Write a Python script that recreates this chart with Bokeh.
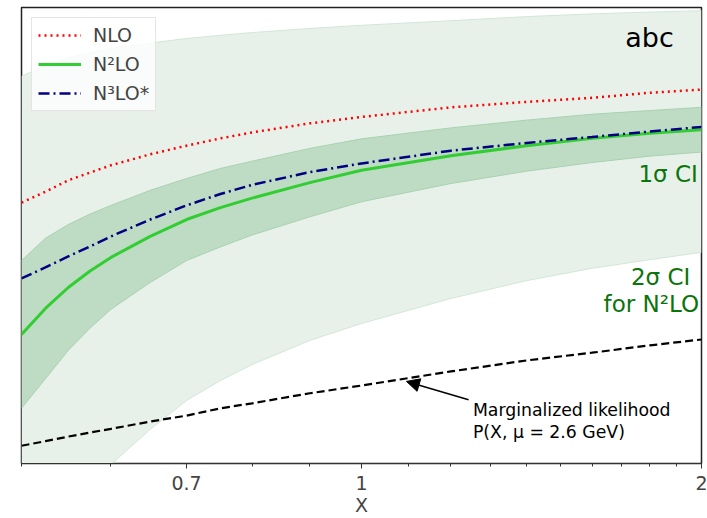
from bokeh.plotting import figure
from bokeh.models import (Range1d, FixedTicker, CustomJSTickFormatter, Label, Arrow,
                          NormalHead, ColumnDataSource)
from bokeh.embed import file_html
from bokeh.resources import INLINE

# ---- data ----
x = [0.5, 0.525, 0.55, 0.575, 0.6, 0.65, 0.7, 0.75, 0.8, 0.9, 1.0, 1.2, 1.4, 1.6, 1.8, 2.0]
nlo = [5.72, 5.96, 6.21, 6.38, 6.54, 6.78, 6.97, 7.13, 7.26, 7.46, 7.60, 7.81, 7.93, 8.02, 8.13, 8.20]
n2lo = [2.83, 3.40, 3.86, 4.22, 4.52, 4.98, 5.35, 5.61, 5.82, 6.16, 6.43, 6.75, 6.97, 7.13, 7.24, 7.32]
n3lo = [4.06, 4.30, 4.54, 4.76, 4.98, 5.35, 5.66, 5.91, 6.11, 6.39, 6.58, 6.86, 7.03, 7.16, 7.28, 7.38]
ci1_lo = [1.21, 1.86, 2.48, 2.97, 3.38, 3.97, 4.45, 4.75, 5.01, 5.41, 5.74, 6.14, 6.41, 6.60, 6.74, 6.83]
ci1_hi = [4.45, 4.94, 5.24, 5.47, 5.66, 5.99, 6.25, 6.47, 6.63, 6.91, 7.12, 7.36, 7.53, 7.66, 7.74, 7.81]
ci2_lo = [-2.11, -1.45, -0.90, -0.44, -0.02, 0.75, 1.38, 1.82, 2.17, 2.70, 3.07, 3.62, 4.01, 4.28, 4.47, 4.63]
ci2_hi = [8.49, 8.73, 8.90, 9.01, 9.10, 9.22, 9.32, 9.39, 9.45, 9.54, 9.61, 9.71, 9.80, 9.86, 9.90, 9.93]
likelihood = [0.39, 0.49, 0.59, 0.68, 0.76, 0.92, 1.05, 1.21, 1.32, 1.54, 1.71, 2.02, 2.26, 2.43, 2.59, 2.72]

major_ticks = [0.7, 1, 2]
minor_ticks = [0.5, 0.6, 0.8, 0.9, 1.1, 1.2, 1.3, 1.4, 1.5, 1.6, 1.7, 1.8, 1.9]

FONT = "DejaVu Sans"
TXT_GREEN = "#0b740b"

src = ColumnDataSource(dict(x=x, nlo=nlo, n2lo=n2lo, n3lo=n3lo, ci1_lo=ci1_lo,
                            ci1_hi=ci1_hi, ci2_lo=ci2_lo, ci2_hi=ci2_hi, lik=likelihood))

p = figure(width=707, height=518, x_axis_type="log", output_backend="svg",
           toolbar_location=None, x_range=Range1d(0.5, 2.0), y_range=Range1d(0, 10),
           min_border_left=21, min_border_right=6, min_border_top=7, min_border_bottom=54)

# bands
p.varea(x="x", y1="ci2_lo", y2="ci2_hi", source=src, fill_color="#e7f1ea")
p.line(x="x", y="ci2_lo", source=src, line_color="#d2e6d8", line_width=1)
p.line(x="x", y="ci2_hi", source=src, line_color="#d2e6d8", line_width=1)
p.varea(x="x", y1="ci1_lo", y2="ci1_hi", source=src, fill_color="#bedcc3")
p.line(x="x", y="ci1_lo", source=src, line_color="#a9d1b0", line_width=1)
p.line(x="x", y="ci1_hi", source=src, line_color="#a9d1b0", line_width=1)

# curves
p.line(x="x", y="nlo", source=src, line_color="red", line_width=2.5, line_dash="2 4",
       legend_label="NLO")
p.line(x="x", y="n2lo", source=src, line_color="#32cd32", line_width=3,
       legend_label="N²LO")
p.line(x="x", y="n3lo", source=src, line_color="navy", line_width=2.5,
       line_dash="11 4 2 4", legend_label="N³LO*")
p.line(x="x", y="lik", source=src, line_color="black", line_width=2.2, line_dash="8 4")

# texts
p.add_layout(Label(x=1.89, y=9.34, text="abc", text_font=FONT, text_font_size="27px",
                   text_align="right", text_baseline="middle", text_color="black"))
p.add_layout(Label(x=1.985, y=6.34, text="1σ CI", text_font=FONT, text_font_size="23px",
                   text_align="right", text_baseline="middle", text_color=TXT_GREEN))
p.add_layout(Label(x=1.84, y=4.08, text="2σ CI", text_font=FONT, text_font_size="23px",
                   text_align="center", text_baseline="middle", text_color=TXT_GREEN))
p.add_layout(Label(x=1.99, y=3.50, text="for N²LO", text_font=FONT, text_font_size="23px",
                   text_align="right", text_baseline="middle", text_color=TXT_GREEN))
p.add_layout(Label(x=1.255, y=1.18, text="Marginalized likelihood", text_font=FONT,
                   text_font_size="17.3px", text_align="left", text_baseline="middle",
                   text_color="black"))
p.add_layout(Label(x=1.255, y=0.68, text="P(X, μ = 2.6 GeV)", text_font=FONT,
                   text_font_size="17.3px", text_align="left", text_baseline="middle",
                   text_color="black"))
p.add_layout(Arrow(end=NormalHead(size=13, fill_color="black", line_color="black"),
                   x_start=1.244, y_start=1.40, x_end=1.096, y_end=1.80,
                   line_color="black", line_width=1.5))

# axes
p.xaxis.ticker = FixedTicker(ticks=major_ticks, minor_ticks=minor_ticks)
p.xaxis.formatter = CustomJSTickFormatter(code="return tick.toString();")
p.xaxis.axis_label = "X"
p.xaxis.axis_label_text_font = FONT
p.xaxis.axis_label_text_font_style = "normal"
p.xaxis.axis_label_text_font_size = "19px"
p.xaxis.axis_label_standoff = 1
p.xaxis.major_label_text_font = FONT
p.xaxis.major_label_text_font_size = "19px"
p.xaxis.major_label_standoff = 7
p.xaxis.major_tick_out = 5
p.xaxis.major_tick_in = 0
p.xaxis.minor_tick_out = 3
p.xaxis.minor_tick_in = 0
p.xaxis.axis_line_color = "#333333"
p.xaxis.major_tick_line_color = "#333333"
p.xaxis.minor_tick_line_color = "#333333"
p.yaxis.visible = False
p.xgrid.visible = False
p.ygrid.visible = False
p.outline_line_color = "#222222"
p.outline_line_width = 1.5
p.background_fill_color = "white"

# legend
lg = p.legend[0]
lg.location = "top_left"
lg.margin = 10
lg.padding = 6
lg.spacing = 7
lg.glyph_width = 43
lg.glyph_height = 20
lg.label_height = 20
lg.label_standoff = 12
lg.label_text_font = FONT
lg.label_text_font_size = "19px"
lg.border_line_color = "#cccccc"
lg.border_line_width = 1
lg.background_fill_alpha = 0.8

open("out.html", "w").write(file_html(p, INLINE))
